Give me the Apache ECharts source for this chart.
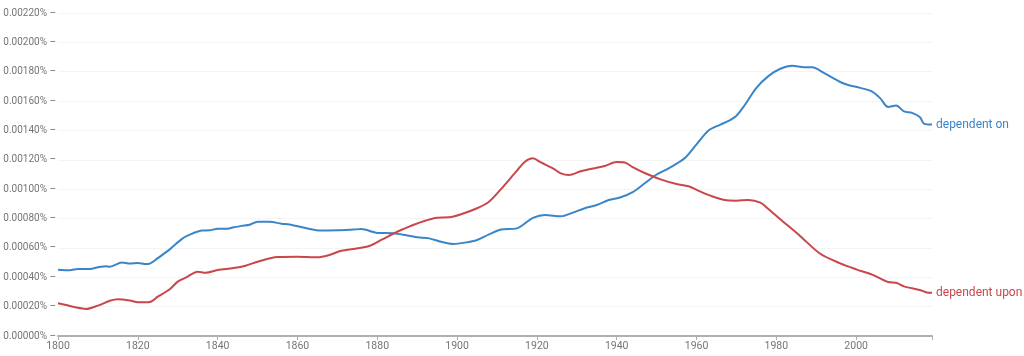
<!DOCTYPE html>
<html>
<head>
<meta charset="utf-8">
<script src="https://cdn.jsdelivr.net/npm/echarts@6/dist/echarts.min.js"></script>
<style>html,body{margin:0;padding:0;background:#fff;}#c{width:1024px;height:356px;}</style>
</head>
<body>
<div id="c"></div>
<script>
var seriesNames = ['dependent on', 'dependent upon'];
var yTicks = [0, 0.0002, 0.0004, 0.0006, 0.0008, 0.001, 0.0012, 0.0014, 0.0016, 0.0018, 0.002, 0.0022];
var xTicks = [1800, 1820, 1840, 1860, 1880, 1900, 1920, 1940, 1960, 1980, 2000];

var onYears = [1800,1803,1805,1808,1810,1812,1813,1816,1818,1820,1822,1823,1825,1828,1831,1833,1836,1838,1840,1842,1844,1846,1848,1850,1853,1856,1858,1862,1866,1870,1874,1876,1880,1884,1887,1890,1893,1896,1899,1902,1905,1908,1911,1915,1917,1919,1922,1926,1929,1932,1935,1938,1941,1944,1947,1950,1953,1957,1960,1963,1966,1968,1970,1972,1975,1978,1981,1984,1987,1989,1992,1996,1998,2001,2004,2006,2008,2010,2012,2014,2016,2017,2019];
var onValues = [0.000452,0.000448,0.000457,0.000457,0.000468,0.000475,0.000472,0.000500,0.000493,0.000497,0.000490,0.000493,0.000530,0.000590,0.000660,0.000690,0.000718,0.000720,0.000730,0.000730,0.000740,0.000750,0.000758,0.000778,0.000778,0.000765,0.000760,0.000735,0.000718,0.000720,0.000725,0.000728,0.000702,0.000700,0.000688,0.000672,0.000665,0.000642,0.000627,0.000636,0.000654,0.000692,0.000725,0.000733,0.000767,0.000805,0.000824,0.000815,0.000840,0.000870,0.000892,0.000926,0.000945,0.000980,0.001040,0.001100,0.001142,0.001210,0.001305,0.001400,0.001440,0.001465,0.001500,0.001570,0.001690,0.001770,0.001820,0.001840,0.001830,0.001830,0.001790,0.001730,0.001710,0.001690,0.001665,0.001620,0.001560,0.001570,0.001530,0.001520,0.001490,0.001445,0.001440];

var uponYears = [1800,1802,1804,1807,1810,1813,1815,1818,1820,1823,1825,1828,1830,1832,1835,1837,1840,1844,1847,1850,1855,1860,1865,1868,1871,1876,1878,1881,1885,1889,1892,1895,1898,1901,1905,1908,1911,1915,1917,1919,1921,1924,1926,1928,1931,1935,1937,1940,1942,1944,1947,1951,1955,1958,1961,1964,1967,1970,1973,1976,1978,1981,1986,1991,1996,2000,2004,2008,2010,2012,2016,2018,2019];
var uponValues = [0.000223,0.000211,0.000198,0.000184,0.000207,0.000240,0.000250,0.000242,0.000230,0.000232,0.000268,0.000318,0.000370,0.000397,0.000438,0.000431,0.000450,0.000463,0.000479,0.000506,0.000538,0.000540,0.000536,0.000552,0.000580,0.000601,0.000613,0.000654,0.000710,0.000756,0.000785,0.000806,0.000808,0.000829,0.000870,0.000915,0.001000,0.001126,0.001187,0.001210,0.001182,0.001142,0.001108,0.001097,0.001122,0.001146,0.001158,0.001185,0.001182,0.001150,0.001110,0.001067,0.001035,0.001020,0.000983,0.000950,0.000926,0.000922,0.000926,0.000908,0.000865,0.000795,0.000680,0.000560,0.000495,0.000454,0.000418,0.000368,0.000363,0.000338,0.000313,0.000295,0.000295];

function pairs(xs, ys) { return xs.map(function (x, i) { return [x, ys[i]]; }); }

var colors = ['#3a85c8', '#c9464a'];
var chart = echarts.init(document.getElementById('c'), null, {renderer: 'canvas'});
chart.setOption({
  animation: false,
  grid: {left: 58, right: 92, top: 13, bottom: 20, containLabel: false, outerBoundsMode: 'none'},
  xAxis: {
    type: 'value', min: 1800, max: 2019, interval: 20,
    axisLine: {show: true, lineStyle: {color: '#b0b0b0', width: 2}},
    axisTick: {show: true, length: 4, lineStyle: {color: '#b0b0b0'}},
    axisLabel: {color: '#757575', fontSize: 10.5, fontFamily: 'Roboto', margin: 5,
      formatter: function (v) { return xTicks.indexOf(v) >= 0 ? String(v) : ''; }},
    splitLine: {show: false}
  },
  yAxis: {
    type: 'value', min: 0, max: 0.0022, interval: 0.0002,
    axisLine: {show: false},
    axisTick: {show: false},
    axisLabel: {color: '#757575', fontSize: 10, fontFamily: 'Roboto', margin: 2,
      formatter: function (v) {
        var t = yTicks.reduce(function (a, b) { return Math.abs(b - v) < Math.abs(a - v) ? b : a; });
        return t.toFixed(5) + '% \u2013';
      }},
    splitLine: {show: true, lineStyle: {color: '#f4f4f4', width: 1}}
  },
  series: [
    {name: seriesNames[0], type: 'line', data: pairs(onYears, onValues), smooth: 0.3, showSymbol: false,
      lineStyle: {color: colors[0], width: 2}, itemStyle: {color: colors[0]},
      endLabel: {show: true, formatter: seriesNames[0], color: colors[0], fontSize: 12, fontFamily: 'Roboto', distance: 4}},
    {name: seriesNames[1], type: 'line', data: pairs(uponYears, uponValues), smooth: 0.3, showSymbol: false,
      lineStyle: {color: colors[1], width: 2}, itemStyle: {color: colors[1]},
      endLabel: {show: true, formatter: seriesNames[1], color: colors[1], fontSize: 12, fontFamily: 'Roboto', distance: 4}}
  ]
});
</script>
</body>
</html>
